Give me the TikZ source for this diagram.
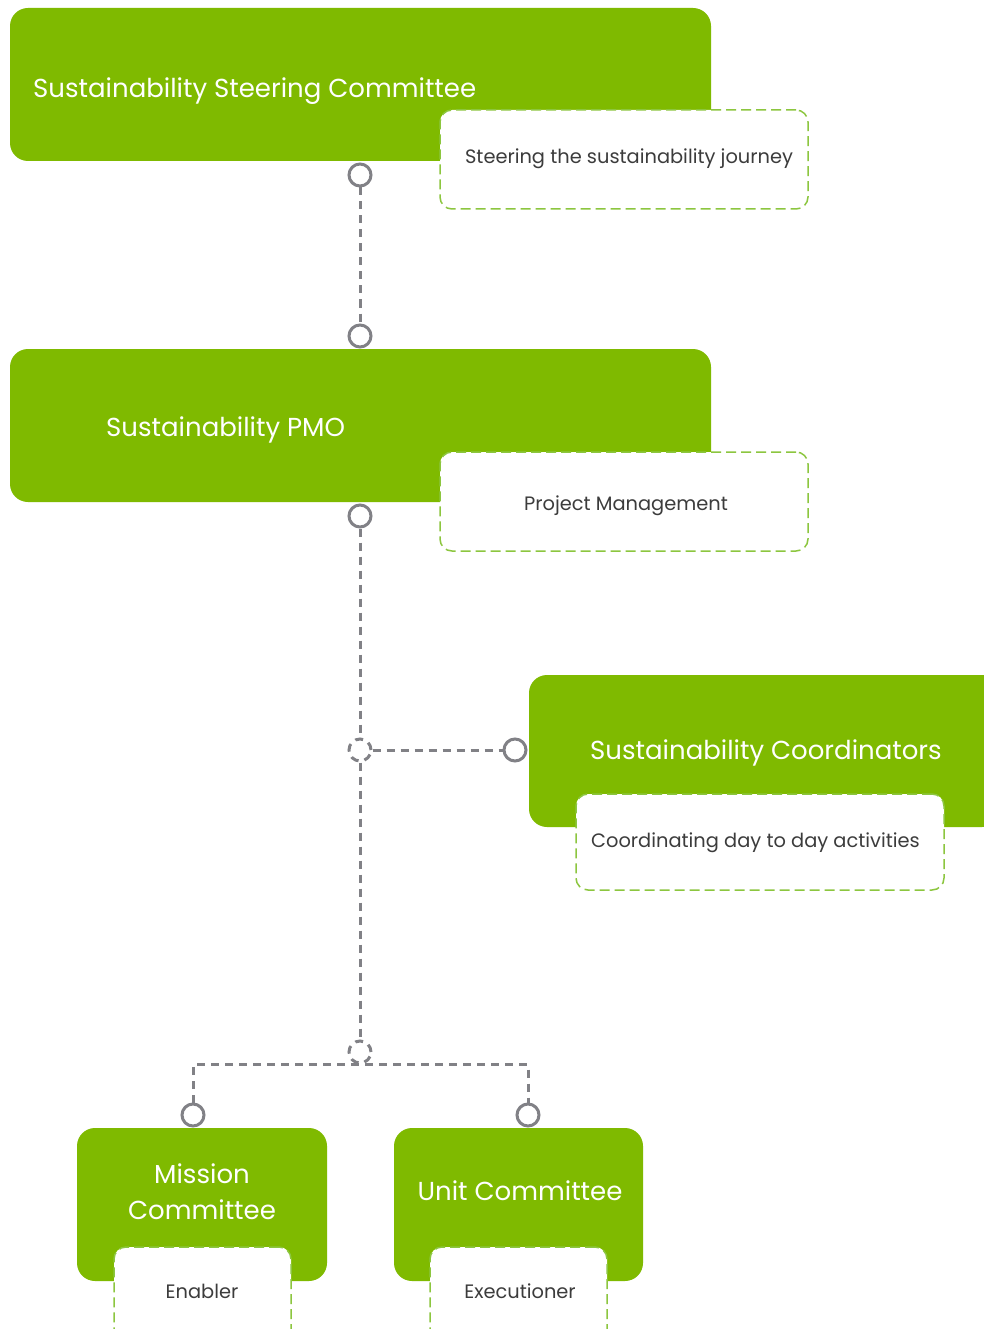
\documentclass[tikz,border=0pt]{standalone}
\usepackage{fontspec}
\setmainfont{Poppins}
\definecolor{grn}{HTML}{7FBA00}
\definecolor{dgrn}{HTML}{8CC63F}
\definecolor{conngray}{HTML}{818186}
\definecolor{txtgray}{HTML}{3C3C3C}
\begin{document}
\begin{tikzpicture}[x=1pt,y=-1pt,
  greenbox/.style={fill=grn,rounded corners=18pt,inner sep=0pt},
  notebox/.style={draw=dgrn,fill=white,line width=1.5pt,dash pattern=on 10pt off 5pt,rounded corners=12pt,inner sep=0pt},
  bigtxt/.style={text=white,font=\fontsize{26}{36}\selectfont,inner sep=0pt},
  smalltxt/.style={text=txtgray,font=\fontsize{19.4}{22}\selectfont,inner sep=0pt},
  port/.style={circle,draw=conngray,fill=white,line width=3pt,minimum size=22pt,inner sep=0pt},
  junction/.style={circle,draw=conngray,fill=white,line width=3pt,dash pattern=on 8pt off 6pt,minimum size=22pt,inner sep=0pt},
  conn/.style={draw=conngray,line width=3pt,dash pattern=on 8pt off 6pt}]
\useasboundingbox (0,0) rectangle (984,1329);
\clip (0,0) rectangle (984,1329);
\fill[white] (0,0) rectangle (984,1329);
% boxes
\node[greenbox,minimum width=701pt,minimum height=153pt] (ssc) at (360.5,84.5) {};
\node[bigtxt,anchor=west] (sscT) at (33,91) {Sustainability Steering Committee};
\node[notebox,minimum width=368pt,minimum height=99pt] (sscN) at (624,159.5) {};
\node[smalltxt] (sscNT) at (629,159) {Steering the sustainability journey};

\node[greenbox,minimum width=701pt,minimum height=153pt] (pmo) at (360.5,425.5) {};
\node[bigtxt,anchor=west] (pmoT) at (106,430) {Sustainability PMO};
\node[notebox,minimum width=368pt,minimum height=99pt] (pmoN) at (624,501.5) {};
\node[smalltxt] (pmoNT) at (626,506) {Project Management};

\node[greenbox,minimum width=471pt,minimum height=152pt] (sc) at (764.5,751) {};
\node[bigtxt,anchor=west] (scT) at (590,753) {Sustainability Coordinators};
\node[notebox,minimum width=368pt,minimum height=96pt] (scN) at (760,842) {};
\node[smalltxt] (scNT) at (755.5,843) {Coordinating day to day activities};

\node[greenbox,minimum width=250pt,minimum height=153pt] (mc) at (202,1204.5) {};
\node[bigtxt,align=center] (mcT) at (202,1192) {Mission\\Committee};
\node[notebox,minimum width=177pt,minimum height=98pt] (mcN) at (202.5,1296) {};
\node[smalltxt] (mcNT) at (202,1291) {Enabler};

\node[greenbox,minimum width=249pt,minimum height=153pt] (uc) at (518.5,1204.5) {};
\node[bigtxt] (ucT) at (520,1191) {Unit Committee};
\node[notebox,minimum width=177pt,minimum height=98pt] (ucN) at (518.5,1296) {};
\node[smalltxt] (ucNT) at (520,1291) {Executioner};

% ports
\node[port] (p1) at (360,175) {};
\node[port] (p2) at (360,336) {};
\node[port] (p3) at (360,516) {};
\node[junction] (j1) at (360,750) {};
\node[port] (p4) at (515,750) {};
\node[junction] (j2) at (360,1052) {};
\node[port] (p5) at (193,1115) {};
\node[port] (p6) at (528,1115) {};

% connectors
\draw[conn] (p1) -- (p2);
\draw[conn] (p3) -- (j1);
\draw[conn] (j1) -- (p4);
\draw[conn] (j1) -- (j2);
\draw[conn] (p5.north) |- (j2.south) -| (p6.north);
\end{tikzpicture}
\end{document}
